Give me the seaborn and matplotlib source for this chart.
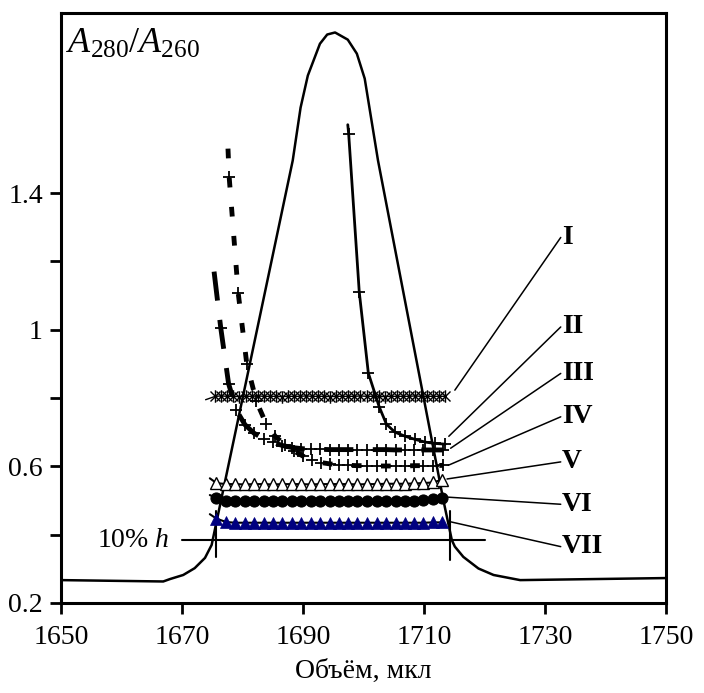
import numpy as np
import pandas as pd
import matplotlib
matplotlib.use("Agg")
import matplotlib.pyplot as plt
from matplotlib.path import Path
from matplotlib.ticker import FixedLocator
import seaborn as sns

# ---------------- data ----------------
# elution profile (peak), drawn in the same y-scale
peak_x = [1650.0, 1666.9, 1668.0, 1670.2, 1672.1, 1673.8, 1674.9, 1688.3, 1689.6, 1690.8,
          1692.8, 1694.0, 1695.3, 1697.4, 1698.9, 1700.2, 1702.4, 1713.2, 1714.6, 1715.1,
          1716.5, 1719.0, 1721.5, 1725.9, 1750.0]
peak_y = [0.267, 0.263, 0.270, 0.282, 0.302, 0.332, 0.370, 1.495, 1.650, 1.744,
          1.837, 1.864, 1.870, 1.849, 1.808, 1.735, 1.495, 0.501, 0.384, 0.365,
          0.335, 0.301, 0.282, 0.267, 0.273]

# series I (asterisks)
s1_x = [1673.9, 1675.5, 1676.5, 1677.5, 1678.5, 1679.5, 1680.5, 1681.5, 1682.5, 1683.5,
        1684.5, 1685.5, 1686.5, 1687.5, 1688.5, 1689.5, 1690.5, 1691.5, 1692.5, 1693.5,
        1694.5, 1695.5, 1696.5, 1697.5, 1698.5, 1699.5, 1700.5, 1701.5, 1702.5, 1703.5,
        1704.5, 1705.5, 1706.5, 1707.5, 1708.5, 1709.5, 1710.5, 1711.5, 1712.5, 1713.5]
s1_y = [0.795, 0.805, 0.806, 0.805, 0.805, 0.804, 0.805, 0.805, 0.806, 0.805,
        0.805, 0.805, 0.804, 0.805, 0.805, 0.805, 0.806, 0.805, 0.805, 0.805,
        0.804, 0.805, 0.805, 0.805, 0.805, 0.806, 0.805, 0.805, 0.805, 0.804,
        0.805, 0.805, 0.805, 0.805, 0.806, 0.805, 0.805, 0.805, 0.805, 0.805]

# series II (solid, +)
s2_x = [1697.4, 1697.55, 1699.3, 1700.8, 1702.6, 1703.8, 1705.2, 1706.9, 1708.5, 1710.2, 1711.8, 1713.5]
s2_y = [1.600, 1.573, 1.110, 0.873, 0.774, 0.723, 0.700, 0.688, 0.679, 0.671, 0.667, 0.665]

# series III (long dashes, +)
s3_x = [1675.3, 1676.4, 1677.7, 1679.0, 1680.4, 1681.9, 1683.5, 1685.0, 1686.6, 1688.2,
        1689.7, 1691.3, 1692.8, 1694.4, 1695.9, 1697.5, 1699.0, 1700.6, 1702.2, 1703.7,
        1705.3, 1706.8, 1708.4, 1709.9, 1711.5, 1713.2]
s3_y = [1.170, 1.006, 0.842, 0.764, 0.722, 0.697, 0.681, 0.670, 0.661, 0.655,
        0.652, 0.650, 0.650, 0.649, 0.649, 0.649, 0.649, 0.649, 0.649, 0.649,
        0.648, 0.648, 0.648, 0.648, 0.648, 0.648]

# series IV (short dashes, +)
s4_x = [1677.6, 1677.8, 1679.3, 1680.7, 1682.3, 1683.9, 1685.4, 1687.0, 1688.5, 1690.0,
        1691.5, 1693.0, 1694.5, 1696.0, 1697.5, 1699.0, 1700.6, 1702.2, 1703.7, 1705.3,
        1706.8, 1708.4, 1709.9, 1711.5, 1713.2]
s4_y = [1.530, 1.446, 1.106, 0.901, 0.790, 0.725, 0.688, 0.663, 0.645, 0.630,
        0.618, 0.611, 0.607, 0.605, 0.603, 0.602, 0.602, 0.601, 0.601, 0.601,
        0.601, 0.602, 0.602, 0.602, 0.603]

# common fraction grid for V, VI, VII (first value = start of line, no marker)
grid_x = [1674.6, 1675.7, 1677.3, 1678.8, 1680.4, 1681.9, 1683.5, 1685.0, 1686.6, 1688.2,
          1689.7, 1691.3, 1692.8, 1694.4, 1695.9, 1697.5, 1699.0, 1700.6, 1702.2, 1703.7,
          1705.3, 1706.8, 1708.4, 1709.9, 1711.5, 1713.0]
s5_y = [0.565, 0.551, 0.548, 0.548, 0.547, 0.548, 0.548, 0.547, 0.548, 0.548,
        0.548, 0.547, 0.548, 0.548, 0.548, 0.548, 0.547, 0.548, 0.548, 0.549,
        0.549, 0.549, 0.550, 0.551, 0.553, 0.561]
s6_y = [0.516, 0.507, 0.500, 0.499, 0.499, 0.499, 0.499, 0.499, 0.499, 0.499,
        0.499, 0.499, 0.499, 0.499, 0.499, 0.499, 0.499, 0.499, 0.499, 0.499,
        0.499, 0.500, 0.500, 0.501, 0.503, 0.508]
s7_y = [0.460, 0.447, 0.437, 0.435, 0.435, 0.435, 0.435, 0.435, 0.435, 0.435,
        0.435, 0.435, 0.435, 0.435, 0.435, 0.435, 0.435, 0.435, 0.435, 0.435,
        0.435, 0.435, 0.435, 0.435, 0.436, 0.436]

# 10% h guide
h10_level = 0.384
h10_span = [1670.0, 1720.0]
h10_marks = [1675.7, 1714.3]
h10_mark_lo = [0.336, 0.326]
h10_mark_hi = [0.468, 0.468]

# series labels and leader lines
labels = ["I", "II", "III", "IV", "V", "VI", "VII"]
label_y = [1.270, 1.008, 0.872, 0.745, 0.613, 0.489, 0.365]
leader_start = [(1715.1, 0.823), (1714.1, 0.688), (1714.4, 0.653), (1714.0, 0.603),
                (1713.8, 0.563), (1713.8, 0.510), (1714.3, 0.438)]
label_x = 1732.8

x_ticks = [1650, 1670, 1690, 1710, 1730, 1750]
y_ticks = [0.2, 0.6, 1.0, 1.4]
y_minor = [0.4, 0.8, 1.2]
y_ticklabels = ["0.2", "0.6", "1", "1.4"]

# ---------------- style ----------------
sns.set_theme(style="white")
plt.rcParams["font.family"] = ["Liberation Serif", "DejaVu Serif"]
plt.rcParams["text.color"] = "black"
plt.rcParams["axes.labelcolor"] = "black"
plt.rcParams["xtick.color"] = "black"
plt.rcParams["ytick.color"] = "black"
plt.rcParams["mathtext.fontset"] = "custom"
plt.rcParams["mathtext.rm"] = "Liberation Serif"
plt.rcParams["mathtext.it"] = "Liberation Serif:italic"
plt.rcParams["mathtext.bf"] = "Liberation Serif:bold"

fig = plt.figure(figsize=(7.04, 6.93), dpi=100)
ax = fig.add_axes([61 / 704, 90 / 693, 605 / 704, 590 / 693])

# asterisk marker (x plus vertical bar)
star = Path([(-1, -1), (1, 1), (-1, 1), (1, -1), (0, -1.25), (0, 1.25)],
            [Path.MOVETO, Path.LINETO, Path.MOVETO, Path.LINETO, Path.MOVETO, Path.LINETO])

def line(x, y, **kw):
    df = pd.DataFrame({"x": x, "y": y})
    sns.lineplot(data=df, x="x", y="y", ax=ax, sort=False, estimator=None, **kw)

# peak
line(peak_x, peak_y, color="black", linewidth=1.8, zorder=3)

# series
line(s1_x, s1_y, color="black", linewidth=1.0, marker=star, markersize=9,
     markeredgewidth=1.0, markerfacecolor="none", markeredgecolor="black",
     markevery=slice(1, None), zorder=4)
line(s2_x, s2_y, color="black", linewidth=2.0, marker="+", markersize=9,
     markeredgewidth=1.3, markeredgecolor="black", markevery=slice(1, None), zorder=4)
line(s3_x, s3_y, color="black", linewidth=3.5, linestyle=(0, (6, 4)), marker="+",
     markersize=9, markeredgewidth=1.3, markeredgecolor="black",
     markevery=slice(1, None), zorder=4)
line(s4_x, s4_y, color="black", linewidth=3.5, linestyle=(0, (2, 4)), marker="+",
     markersize=9, markeredgewidth=1.3, markeredgecolor="black",
     markevery=slice(1, None), zorder=4)
line(grid_x, s5_y, color="black", linewidth=1.5, marker="^", markersize=8,
     markerfacecolor="white", markeredgecolor="black", markeredgewidth=1.0,
     markevery=slice(1, None), zorder=4)
line(grid_x, s6_y, color="black", linewidth=1.5, marker="o", markersize=8,
     markerfacecolor="black", markeredgecolor="black", markevery=slice(1, None), zorder=4)
line(grid_x, s7_y, color="black", linewidth=1.5, marker="^", markersize=8.5,
     markerfacecolor="#000080", markeredgecolor="#000080", markeredgewidth=0.5,
     markevery=slice(1, None), zorder=4)

# 10% h guides
ax.plot(h10_span, [h10_level, h10_level], color="black", linewidth=1.5, zorder=2)
for mx, lo, hi in zip(h10_marks, h10_mark_lo, h10_mark_hi):
    ax.plot([mx, mx], [lo, hi], color="black", linewidth=1.5, zorder=2)
ax.text(1655.9, h10_level, "10% $\\mathit{h}$", fontsize=20, va="center", ha="left")

# labels and leaders
for lab, ly, (sx, sy) in zip(labels, label_y, leader_start):
    ax.plot([sx, label_x - 0.2], [sy, ly], color="black", linewidth=1.1, zorder=2)
    ax.text(label_x, ly, lab, fontsize=20, fontweight="bold", va="center", ha="left",
            clip_on=False)

# y-axis title inside the axes
ax.text(1650.9, 1.835, "$\\mathit{A}_{280}/\\mathit{A}_{260}$", fontsize=26,
        va="center", ha="left")

# axes
ax.set_xlim(1650, 1750)
ax.set_ylim(0.2, 1.927)
ax.set_xticks(x_ticks)
ax.set_xticklabels([str(t) for t in x_ticks])
ax.set_yticks(y_ticks)
ax.set_yticklabels(y_ticklabels)
ax.yaxis.set_minor_locator(FixedLocator(y_minor))
ax.tick_params(axis="both", which="both", direction="out", length=8, width=2,
               labelsize=20, colors="black")
ax.tick_params(axis="x", which="major", pad=8, bottom=True, top=False)
ax.tick_params(axis="y", which="both", left=True, right=False, pad=5)
ax.set_xlabel("Объём, мкл", fontsize=20, labelpad=6, color="black")
ax.set_ylabel("")
for sp in ax.spines.values():
    sp.set_visible(True)
    sp.set_linewidth(2.2)
    sp.set_color("black")
ax.grid(False)

fig.savefig("out.png", dpi=100)
